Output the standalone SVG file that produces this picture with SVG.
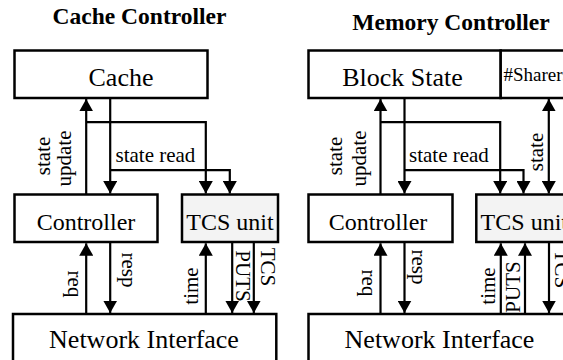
<svg xmlns="http://www.w3.org/2000/svg" width="563" height="360" viewBox="0 0 563 360">
<style>
.box{fill:#fff;stroke:#000;stroke-width:2.5}
.tcs{fill:#f3f3f3;stroke:#000;stroke-width:2.5}
.title{font-family:"Liberation Serif","Times New Roman",serif;font-weight:bold;font-size:23.5px;text-anchor:middle;fill:#000}
.lbl{font-family:"Liberation Serif","Times New Roman",serif;font-size:26px;text-anchor:middle;fill:#000}
.lbs{font-family:"Liberation Serif","Times New Roman",serif;font-size:24px;text-anchor:middle;fill:#000}
.sm{font-family:"Liberation Serif","Times New Roman",serif;font-size:21px;text-anchor:middle;fill:#000}
.smst{font-family:"Liberation Serif","Times New Roman",serif;font-size:21px;fill:#000}
.tiny{font-family:"Liberation Serif","Times New Roman",serif;font-size:19px;fill:#000}
.c{fill:none;stroke:#000;stroke-width:2.2;marker-end:url(#ah)}
</style>
<defs>
<marker id="ah" markerUnits="userSpaceOnUse" markerWidth="14" markerHeight="14" refX="12.4" refY="7" orient="auto-start-reverse">
<path d="M0,0 L12.4,7 L0,14 Z" fill="#000"/>
</marker>
</defs>
<rect width="563" height="360" fill="#fff"/>

<text class="title" x="139.5" y="24">Cache Controller</text>
<text class="title" x="451" y="30">Memory Controller</text>

<g id="cache"><rect class="box" x="14.5" y="50.5" width="193" height="47.5"/><text class="lbl" x="121" y="86">Cache</text></g>
<g id="controller-l"><rect class="box" x="14.5" y="194.5" width="143" height="47.5"/><text class="lbs" x="86" y="230">Controller</text></g>
<g id="tcs-l"><rect class="tcs" x="182" y="194.5" width="96" height="47.5"/><text class="lbs" x="230" y="230">TCS unit</text></g>
<g id="ni-l"><rect class="box" x="13" y="314" width="263.3" height="60"/><text class="lbl" x="144" y="348">Network Interface</text></g>

<g id="blockstate"><rect class="box" x="308.5" y="50.5" width="192.2" height="47.5"/><text class="lbl" x="402.5" y="86">Block State</text></g>
<g id="sharers"><rect class="box" x="500.7" y="50.5" width="80" height="47.5"/><text class="tiny" x="503.5" y="80.5">#Sharers</text></g>
<g id="controller-r"><rect class="box" x="308.5" y="194.5" width="144" height="47.5"/><text class="lbs" x="378" y="230">Controller</text></g>
<g id="tcs-r"><rect class="tcs" x="476.3" y="194.5" width="96" height="47.5"/><text class="lbs" x="524.3" y="230">TCS unit</text></g>
<g id="ni-r"><rect class="box" x="308.5" y="314" width="264" height="60"/><text class="lbl" x="439.5" y="348">Network Interface</text></g>

<g id="connectors">
<path class="c" d="M86.2,194 V99"/>
<path class="c" d="M86.2,122.2 H205.8 V193.5"/>
<path class="c" d="M110.2,98 V193.5"/>
<path class="c" d="M110.2,170.2 H229.8 V193.5"/>
<path class="c" d="M86.2,313 V243.3"/>
<path class="c" d="M110.2,243 V313"/>
<path class="c" d="M205.8,313 V243.3"/>
<path class="c" d="M232.2,243 V313"/>
<path class="c" d="M253.8,243 V313"/>

<path class="c" d="M380.5,194 V99"/>
<path class="c" d="M380.5,122.2 H500.2 V193.5"/>
<path class="c" d="M404.5,98 V193.5"/>
<path class="c" d="M404.5,170.2 H523.5 V193.5"/>
<path class="c" d="M548.8,99 V193.5" marker-start="url(#ah)"/>
<path class="c" d="M380.5,313 V243.3"/>
<path class="c" d="M404.5,243 V313"/>
<path class="c" d="M500.8,313 V243.3"/>
<path class="c" d="M525,313 V243.3"/>
<path class="c" d="M549,243 V313"/>
</g>

<g id="labels">
<text class="sm" transform="translate(50,156) rotate(-90)">state</text>
<text class="sm" transform="translate(71,158.5) rotate(-90)">update</text>
<text class="smst" x="115.5" y="162">state read</text>
<text class="sm" transform="translate(68,284) rotate(90)">req</text>
<text class="sm" transform="translate(122,270) rotate(90)">resp</text>
<text class="sm" transform="translate(198,286) rotate(-90)">time</text>
<text class="sm" transform="translate(236,276) rotate(90)">PUTS</text>
<text class="sm" transform="translate(261,267) rotate(90)">TCS</text>

<text class="sm" transform="translate(342,156) rotate(-90)">state</text>
<text class="sm" transform="translate(366,158.5) rotate(-90)">update</text>
<text class="smst" x="409" y="162">state read</text>
<text class="sm" transform="translate(543,152) rotate(-90)">state</text>
<text class="sm" transform="translate(362,283) rotate(90)">req</text>
<text class="sm" transform="translate(412,267) rotate(90)">resp</text>
<text class="sm" transform="translate(495,286) rotate(-90)">time</text>
<text class="sm" transform="translate(520,287) rotate(-90)">PUTS</text>
<text class="sm" transform="translate(555,269) rotate(90)">TCS</text>
</g>
</svg>
